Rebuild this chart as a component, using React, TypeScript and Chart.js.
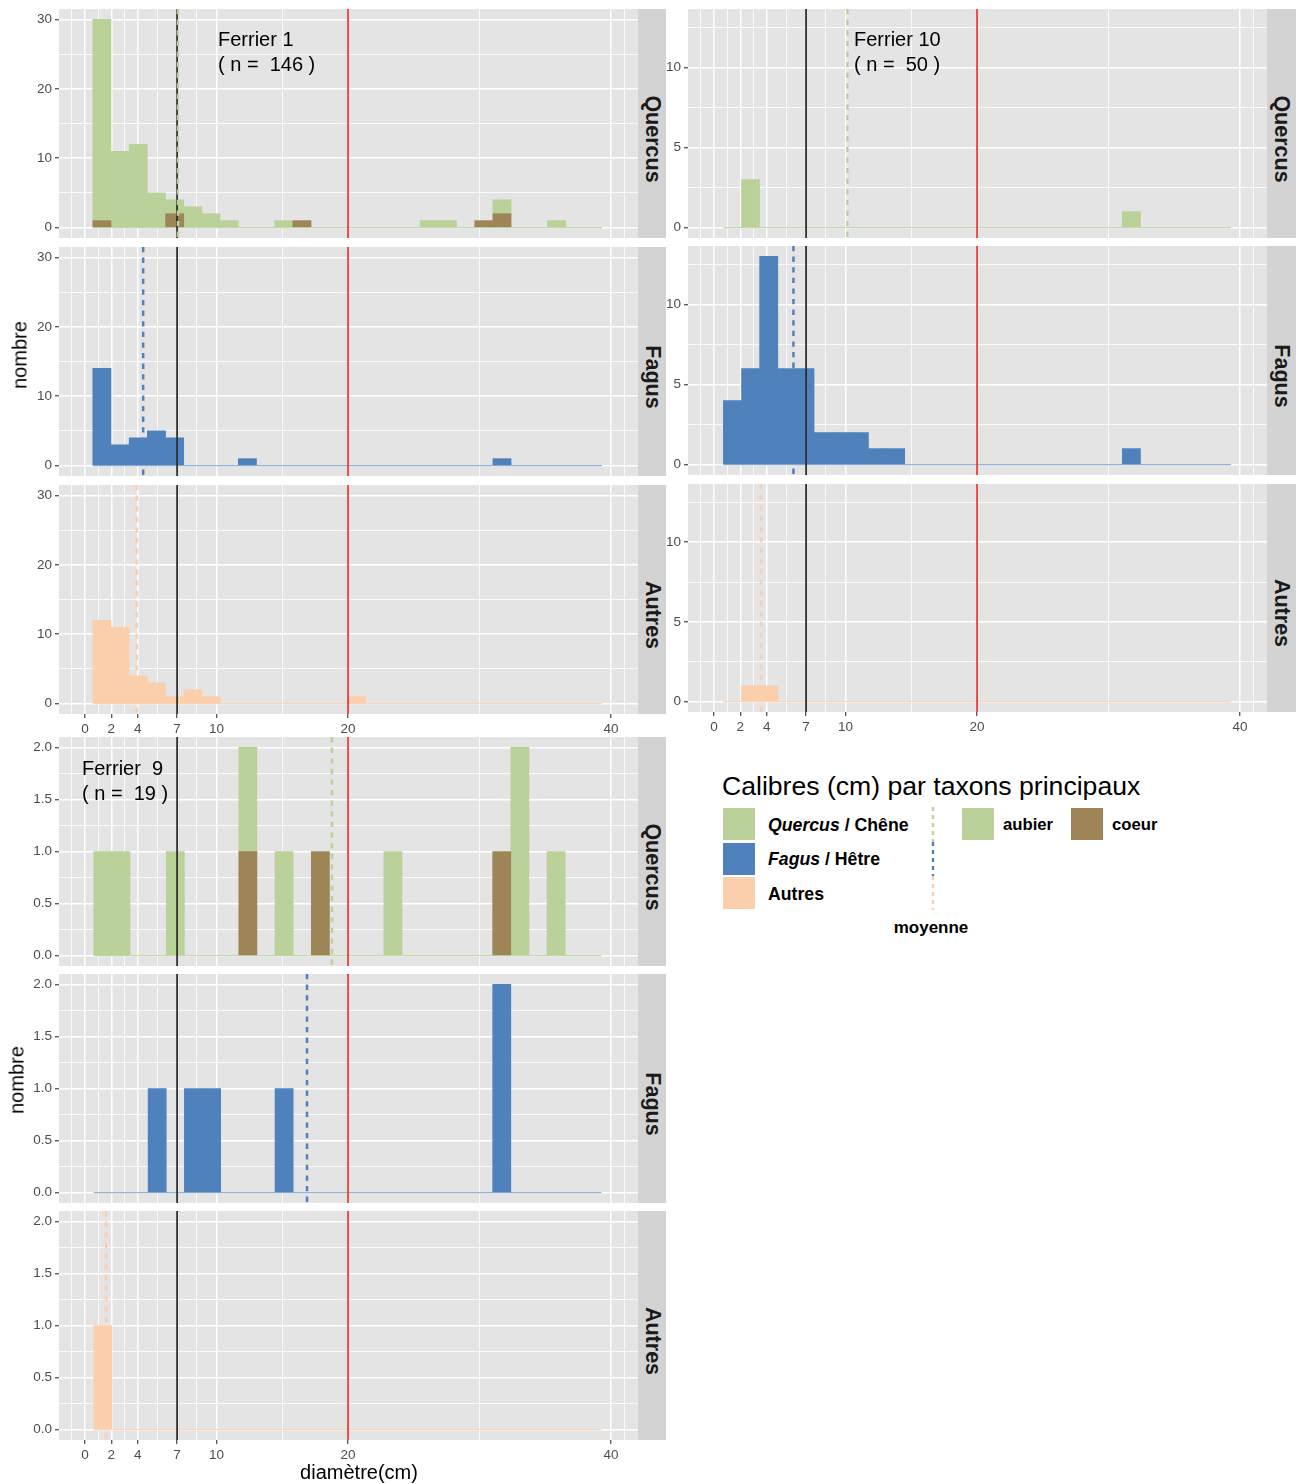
import React, { useEffect, useRef } from 'react';
import { Chart, registerables } from 'chart.js';

Chart.register(...registerables);

const FONT = '"Liberation Sans", Arial, Helvetica, sans-serif';

// ---------- colours ----------
const C_AUBIER = '#BAD29A';
const C_COEUR = '#9E8558';
const C_FAGUS = '#4F81BD';
const C_AUTRES = '#FCCFAC';
const Z_AUBIER = 'rgba(186,210,154,0.85)';
const Z_FAGUS = 'rgba(79,129,189,0.6)';
const Z_AUTRES = 'rgba(252,207,172,0.85)';
const C_BLACK = '#2E2E2E';
const C_RED = '#EE3A36';
const PANEL_BG = '#E4E4E4';
const STRIP_BG = '#D3D3D3';

// ---------- axes ----------
const X_MIN = -1.98;
const X_MAX = 42.05;
const X_TICKS_MAJOR = [0, 2, 4, 7, 10, 20, 40];
const X_TICKS_MINOR = [-1, 1, 3, 5.5, 8.5, 15, 30, 41];
const THRESHOLDS = [7, 20];

const TAXA = ['Quercus', 'Fagus', 'Autres'];

// ---------- Ferrier 1 ----------
const F1_BIN_START = 0.59;
const F1_BIN_WIDTH = 1.383;
const F1_QUERCUS_AUBIER = [29, 11, 12, 5, 2, 3, 2, 1, 0, 0, 1, 0, 0, 0, 0, 0, 0, 0, 1, 1, 0, 0, 2, 0, 0, 1, 0, 0];
const F1_QUERCUS_COEUR = [1, 0, 0, 0, 2, 0, 0, 0, 0, 0, 0, 1, 0, 0, 0, 0, 0, 0, 0, 0, 0, 1, 2, 0, 0, 0, 0, 0];
const F1_FAGUS = [14, 3, 4, 5, 4, 0, 0, 0, 1, 0, 0, 0, 0, 0, 0, 0, 0, 0, 0, 0, 0, 0, 1, 0, 0, 0, 0, 0];
const F1_AUTRES = [12, 11, 4, 3, 1, 2, 1, 0, 0, 0, 0, 0, 0, 0, 1, 0, 0, 0, 0, 0, 0, 0, 0, 0, 0, 0, 0, 0];
const F1_MEANS = [7.07, 4.42, 3.93];

// ---------- Ferrier 10 ----------
const F10_BIN_START = 0.71;
const F10_BIN_WIDTH = 1.379;
const F10_QUERCUS_AUBIER = [0, 3, 0, 0, 0, 0, 0, 0, 0, 0, 0, 0, 0, 0, 0, 0, 0, 0, 0, 0, 0, 0, 1, 0, 0, 0, 0, 0];
const F10_QUERCUS_COEUR = [0, 0, 0, 0, 0, 0, 0, 0, 0, 0, 0, 0, 0, 0, 0, 0, 0, 0, 0, 0, 0, 0, 0, 0, 0, 0, 0, 0];
const F10_FAGUS = [4, 6, 13, 6, 6, 2, 2, 2, 1, 1, 0, 0, 0, 0, 0, 0, 0, 0, 0, 0, 0, 0, 1, 0, 0, 0, 0, 0];
const F10_AUTRES = [0, 1, 1, 0, 0, 0, 0, 0, 0, 0, 0, 0, 0, 0, 0, 0, 0, 0, 0, 0, 0, 0, 0, 0, 0, 0, 0, 0];
const F10_MEANS = [10.14, 6.04, 3.58];

// ---------- Ferrier 9 ----------
const F9_BIN_START = 0.66;
const F9_BIN_WIDTH = 1.379;
const F9_QUERCUS_AUBIER = [1, 1, 0, 0, 1, 0, 0, 0, 1, 0, 1, 0, 0, 0, 0, 0, 1, 0, 0, 0, 0, 0, 0, 2, 0, 1, 0, 0];
const F9_QUERCUS_COEUR = [0, 0, 0, 0, 0, 0, 0, 0, 1, 0, 0, 0, 1, 0, 0, 0, 0, 0, 0, 0, 0, 0, 1, 0, 0, 0, 0, 0];
const F9_FAGUS = [0, 0, 0, 1, 0, 1, 1, 0, 0, 0, 1, 0, 0, 0, 0, 0, 0, 0, 0, 0, 0, 0, 2, 0, 0, 0, 0, 0];
const F9_AUTRES = [1, 0, 0, 0, 0, 0, 0, 0, 0, 0, 0, 0, 0, 0, 0, 0, 0, 0, 0, 0, 0, 0, 0, 0, 0, 0, 0, 0];
const F9_MEANS = [18.77, 16.88, 1.6];

// ---------- y scales ----------
const F1_Y = { min: -1.5, max: 31.5, major: [0, 10, 20, 30], minor: [5, 15, 25], dec: 0 };
const F10_Y = { min: -0.65, max: 13.65, major: [0, 5, 10], minor: [2.5, 7.5, 12.5], dec: 0 };
const F9_Y = { min: -0.1, max: 2.1, major: [0, 0.5, 1, 1.5, 2], minor: [0.25, 0.75, 1.25, 1.75], dec: 1 };

type Series = { values: number[]; color: string };
type YConf = { min: number; max: number; major: number[]; minor: number[]; dec: number };
type PanelProps = {
  left: number;
  top: number;
  axisW: number;
  plotW: number;
  plotH: number;
  xAxisH: number;
  showX: boolean;
  y: YConf;
  binStart: number;
  binWidth: number;
  series: Series[];
  zeroColor: string;
  mean: number;
  meanColor: string;
};

function Panel(p: PanelProps) {
  const ref = useRef<HTMLCanvasElement>(null);
  const w = p.axisW + p.plotW;
  const h = p.plotH + p.xAxisH;

  useEffect(() => {
    const canvas = ref.current;
    if (!canvas) return;
    const n = p.series[0].values.length;
    const centers = p.series[0].values.map((_, i) => p.binStart + p.binWidth * (i + 0.5));
    const isMajorX = (v: number) => X_TICKS_MAJOR.includes(v);
    const isMajorY = (v: number) => p.y.major.some((m) => Math.abs(m - v) < 1e-9);
    const barPx = (p.binWidth * p.plotW) / (X_MAX - X_MIN);

    const datasets: any[] = p.series.map((s) => ({
      type: 'bar',
      data: s.values.map((v, i) => ({ x: centers[i], y: v === 0 ? null : v })),
      backgroundColor: s.color,
      borderWidth: 0,
      barThickness: barPx,
      stack: 'hist',
      order: 1,
    }));
    datasets.push({
      type: 'line',
      data: [
        { x: p.binStart, y: 0 },
        { x: p.binStart + p.binWidth * n, y: 0 },
      ],
      borderColor: p.zeroColor,
      borderWidth: 1.3,
      pointRadius: 0,
      stack: 'zero',
      order: 10,
    });

    const bgPlugin = {
      id: 'panelBg',
      beforeDraw(chart: any) {
        const { ctx, chartArea: a } = chart;
        ctx.save();
        ctx.fillStyle = PANEL_BG;
        ctx.fillRect(a.left, a.top, a.right - a.left, a.bottom - a.top);
        ctx.restore();
      },
    };
    const vlinePlugin = {
      id: 'vlines',
      afterDatasetsDraw(chart: any) {
        const { ctx, chartArea: a, scales } = chart;
        const xs = scales.x;
        ctx.save();
        const draw = (v: number, color: string, width: number, dash: number[]) => {
          const px = xs.getPixelForValue(v);
          ctx.beginPath();
          ctx.strokeStyle = color;
          ctx.lineWidth = width;
          ctx.setLineDash(dash);
          ctx.moveTo(px, a.top);
          ctx.lineTo(px, a.bottom);
          ctx.stroke();
        };
        draw(THRESHOLDS[0], C_BLACK, 1.8, []);
        draw(THRESHOLDS[1], C_RED, 1.8, []);
        draw(p.mean, p.meanColor, 2.5, [5.3, 5.3]);
        ctx.restore();
      },
    };

    const tickFont = { family: FONT, size: 13.5 };
    const chart = new Chart(canvas, {
      type: 'bar',
      data: { datasets },
      options: {
        animation: false,
        responsive: false,
        maintainAspectRatio: false,
        events: [],
        layout: { padding: 0, autoPadding: false } as any,
        plugins: { legend: { display: false }, tooltip: { enabled: false } },
        scales: {
          x: {
            type: 'linear',
            min: X_MIN,
            max: X_MAX,
            stacked: true,
            offset: false,
            afterBuildTicks: (s: any) => {
              s.ticks = [...X_TICKS_MAJOR, ...X_TICKS_MINOR]
                .sort((a, b) => a - b)
                .map((v) => ({ value: v }));
            },
            afterFit: (s: any) => {
              s.height = p.xAxisH;
              s.paddingLeft = 0;
              s.paddingRight = 0;
              s.paddingTop = 0;
              s.paddingBottom = 0;
            },
            ticks: {
              display: p.showX,
              autoSkip: false,
              maxRotation: 0,
              minRotation: 0,
              padding: 3,
              color: '#4D4D4D',
              font: tickFont,
              callback: (v: any) => (isMajorX(Number(v)) ? String(v) : ''),
            },
            grid: {
              offset: false,
              color: '#FFFFFF',
              lineWidth: (c: any) => (c.tick && isMajorX(c.tick.value) ? 1.5 : 0.8),
              tickColor: (c: any) => (c.tick && isMajorX(c.tick.value) ? '#333333' : 'rgba(0,0,0,0)'),
              tickLength: 4,
              tickWidth: 1.1,
              drawTicks: p.showX,
            },
            border: { display: false },
          } as any,
          y: {
            type: 'linear',
            min: p.y.min,
            max: p.y.max,
            stacked: true,
            afterBuildTicks: (s: any) => {
              s.ticks = [...p.y.major, ...p.y.minor]
                .filter((v) => v >= p.y.min && v <= p.y.max)
                .sort((a, b) => a - b)
                .map((v) => ({ value: v }));
            },
            afterFit: (s: any) => {
              s.width = p.axisW;
              s.paddingLeft = 0;
              s.paddingRight = 0;
              s.paddingTop = 0;
              s.paddingBottom = 0;
            },
            ticks: {
              autoSkip: false,
              padding: 3,
              color: '#4D4D4D',
              font: tickFont,
              callback: (v: any) => (isMajorY(Number(v)) ? Number(v).toFixed(p.y.dec) : ''),
            },
            grid: {
              color: '#FFFFFF',
              lineWidth: (c: any) => (c.tick && isMajorY(c.tick.value) ? 1.5 : 0.8),
              tickColor: (c: any) => (c.tick && isMajorY(c.tick.value) ? '#333333' : 'rgba(0,0,0,0)'),
              tickLength: 4,
              tickWidth: 1.1,
              drawTicks: true,
            },
            border: { display: false },
          } as any,
        },
      },
      plugins: [bgPlugin, vlinePlugin],
    } as any);
    return () => chart.destroy();
  }, []);

  return (
    <canvas
      ref={ref}
      width={w}
      height={h}
      style={{ position: 'absolute', left: p.left, top: p.top, width: w, height: h }}
    />
  );
}

function Strip({ left, top, width, height, label }: { left: number; top: number; width: number; height: number; label: string }) {
  return (
    <div
      style={{
        position: 'absolute',
        left,
        top,
        width,
        height,
        background: STRIP_BG,
      }}
    >
      <span
        style={{
          position: 'absolute',
          left: '50%',
          top: height / 2 + 15,
          transform: 'translate(-50%,-50%)',
          writingMode: 'vertical-rl',
          fontFamily: FONT,
          fontWeight: 'bold',
          fontSize: 21.5,
          color: '#1A1A1A',
          whiteSpace: 'pre',
        }}
      >
        {label}
      </span>
    </div>
  );
}

function Txt({ left, cy, size, children, bold, style }: any) {
  const lh = Math.round(size * 1.25);
  return (
    <div
      style={{
        position: 'absolute',
        left,
        top: cy - lh / 2,
        lineHeight: lh + 'px',
        fontFamily: FONT,
        fontSize: size,
        fontWeight: bold ? 'bold' : 'normal',
        whiteSpace: 'pre',
        color: '#000',
        ...style,
      }}
    >
      {children}
    </div>
  );
}

type Group = {
  colLeft: number;
  axisW: number;
  stripLeft: number;
  stripW: number;
  tops: number[];
  heights: number[];
  y: YConf;
  binStart: number;
  binWidth: number;
  aubier: number[];
  coeur: number[];
  fagus: number[];
  autres: number[];
  means: number[];
};

const GROUPS: Group[] = [
  {
    colLeft: 0, axisW: 59, stripLeft: 638, stripW: 28,
    tops: [9, 247, 485], heights: [229, 229, 229], y: F1_Y,
    binStart: F1_BIN_START, binWidth: F1_BIN_WIDTH,
    aubier: F1_QUERCUS_AUBIER, coeur: F1_QUERCUS_COEUR, fagus: F1_FAGUS, autres: F1_AUTRES, means: F1_MEANS,
  },
  {
    colLeft: 662, axisW: 26, stripLeft: 1267, stripW: 29,
    tops: [9, 246, 484], heights: [229, 229, 228], y: F10_Y,
    binStart: F10_BIN_START, binWidth: F10_BIN_WIDTH,
    aubier: F10_QUERCUS_AUBIER, coeur: F10_QUERCUS_COEUR, fagus: F10_FAGUS, autres: F10_AUTRES, means: F10_MEANS,
  },
  {
    colLeft: 0, axisW: 59, stripLeft: 638, stripW: 28,
    tops: [737, 974, 1211], heights: [229, 229, 229], y: F9_Y,
    binStart: F9_BIN_START, binWidth: F9_BIN_WIDTH,
    aubier: F9_QUERCUS_AUBIER, coeur: F9_QUERCUS_COEUR, fagus: F9_FAGUS, autres: F9_AUTRES, means: F9_MEANS,
  },
];

export default function App() {
  const panels: React.ReactNode[] = [];
  GROUPS.forEach((g, gi) => {
    const seriesList: Series[][] = [
      [
        { values: g.coeur, color: C_COEUR },
        { values: g.aubier, color: C_AUBIER },
      ],
      [{ values: g.fagus, color: C_FAGUS }],
      [{ values: g.autres, color: C_AUTRES }],
    ];
    const zeroColors = [Z_AUBIER, Z_FAGUS, Z_AUTRES];
    const meanColors = [C_AUBIER, C_FAGUS, C_AUTRES];
    for (let r = 0; r < 3; r++) {
      panels.push(
        <Panel
          key={`p${gi}-${r}`}
          left={g.colLeft}
          top={g.tops[r]}
          axisW={g.axisW}
          plotW={579}
          plotH={g.heights[r]}
          xAxisH={r === 2 ? 24 : 0}
          showX={r === 2}
          y={g.y}
          binStart={g.binStart}
          binWidth={g.binWidth}
          series={seriesList[r]}
          zeroColor={zeroColors[r]}
          mean={g.means[r]}
          meanColor={meanColors[r]}
        />
      );
      panels.push(
        <Strip key={`s${gi}-${r}`} left={g.stripLeft} top={g.tops[r]} width={g.stripW} height={g.heights[r]} label={TAXA[r]} />
      );
    }
  });

  const keyBox = (left: number, top: number, color: string) => (
    <div style={{ position: 'absolute', left, top, width: 32, height: 32, background: color }} />
  );

  return (
    <div style={{ position: 'absolute', left: 0, top: 0, width: 1300, height: 1484, background: '#FFFFFF', overflow: 'hidden' }}>
      {panels}

      {/* annotations */}
      <Txt left={218} cy={39} size={20}>Ferrier 1</Txt>
      <Txt left={218} cy={64} size={20}>{'( n =  146 )'}</Txt>
      <Txt left={854} cy={39} size={20}>Ferrier 10</Txt>
      <Txt left={854} cy={64} size={20}>{'( n =  50 )'}</Txt>
      <Txt left={82} cy={768} size={20}>{'Ferrier  9'}</Txt>
      <Txt left={82} cy={793} size={20}>{'( n =  19 )'}</Txt>

      {/* axis titles */}
      <div style={{ position: 'absolute', left: 20, top: 355, transform: 'translate(-50%,-50%) rotate(-90deg)', fontFamily: FONT, fontSize: 20, whiteSpace: 'pre' }}>nombre</div>
      <div style={{ position: 'absolute', left: 17, top: 1080, transform: 'translate(-50%,-50%) rotate(-90deg)', fontFamily: FONT, fontSize: 20, whiteSpace: 'pre' }}>nombre</div>
      <div style={{ position: 'absolute', left: 359, top: 1472, transform: 'translate(-50%,-50%)', fontFamily: FONT, fontSize: 20, whiteSpace: 'pre' }}>diamètre(cm)</div>

      {/* legend */}
      <Txt left={722} cy={786} size={26.6}>Calibres (cm) par taxons principaux</Txt>
      {keyBox(723, 808, C_AUBIER)}
      {keyBox(723, 843, C_FAGUS)}
      {keyBox(723, 877, C_AUTRES)}
      <Txt left={768} cy={824.5} size={17.7} bold>
        <i>Quercus</i>
        {' / Chêne'}
      </Txt>
      <Txt left={768} cy={859} size={17.7} bold>
        <i>Fagus</i>
        {' / Hêtre'}
      </Txt>
      <Txt left={768} cy={894} size={17.7} bold>Autres</Txt>
      <svg style={{ position: 'absolute', left: 928, top: 806 }} width={10} height={106}>
        <line x1={5} y1={1} x2={5} y2={36} stroke={C_AUBIER} strokeWidth={2.4} strokeDasharray="4,4" />
        <line x1={5} y1={36} x2={5} y2={70} stroke={C_FAGUS} strokeWidth={2.4} strokeDasharray="4,4" />
        <line x1={5} y1={70} x2={5} y2={104} stroke={C_AUTRES} strokeWidth={2.4} strokeDasharray="4,4" />
      </svg>
      <div style={{ position: 'absolute', left: 931, top: 928, transform: 'translate(-50%,-50%)', fontFamily: FONT, fontSize: 17, fontWeight: 'bold' }}>moyenne</div>
      {keyBox(962, 808, C_AUBIER)}
      <Txt left={1003} cy={824.5} size={16.7} bold>aubier</Txt>
      {keyBox(1071, 808, C_COEUR)}
      <Txt left={1112} cy={824.5} size={16.7} bold>coeur</Txt>
    </div>
  );
}
